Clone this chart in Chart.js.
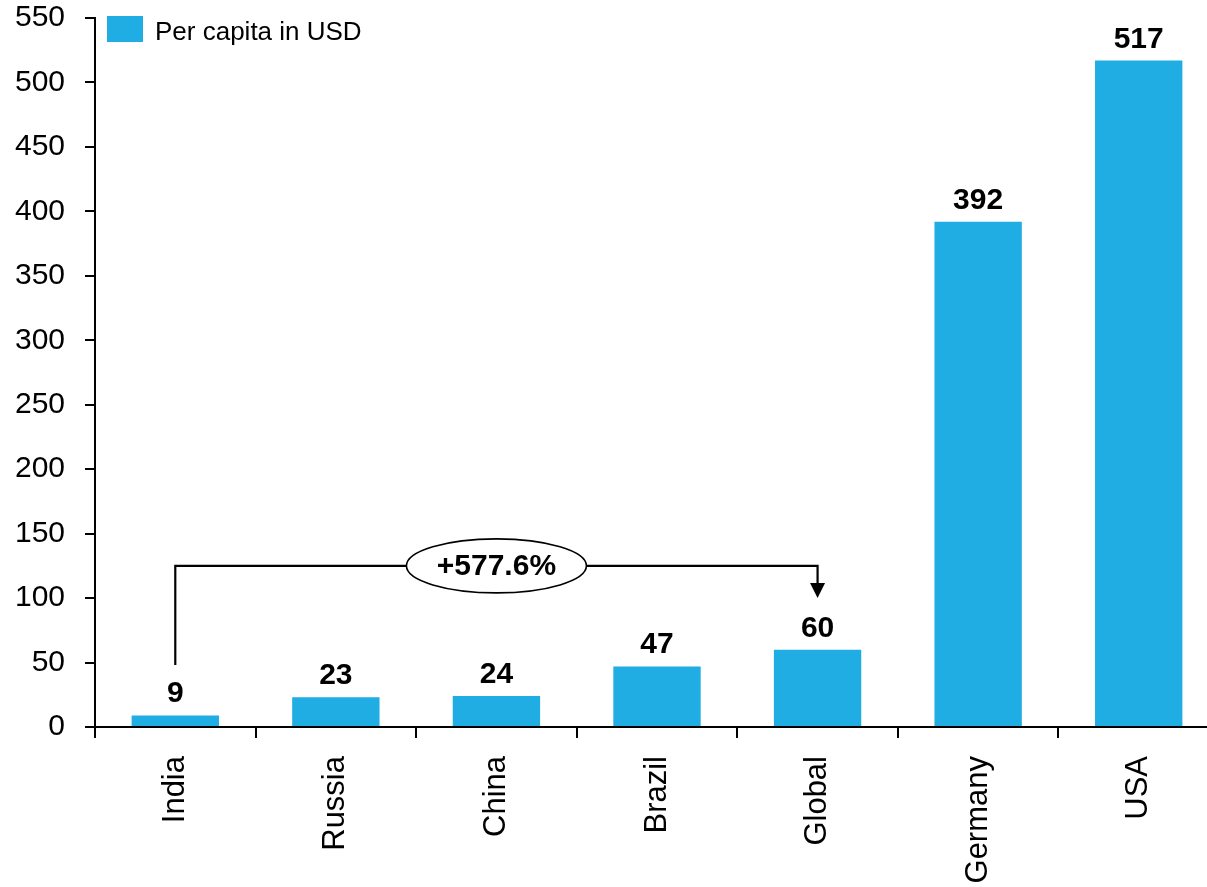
<!DOCTYPE html>
<html>
<head>
<meta charset="utf-8">
<script src="https://cdn.jsdelivr.net/npm/chart.js@4"></script>
<style>
    html, body { margin: 0; padding: 0; background: #fff; overflow: hidden; }
    #wrap { width: 1220px; height: 887px; position: relative; }
</style>
</head>
<body>
<div id="wrap"><canvas id="chart"></canvas></div>
<script>
// data
const countries = ['India', 'Russia', 'China', 'Brazil', 'Global', 'Germany', 'USA'];
const perCapita = [9, 23, 24, 47, 60, 392, 517];
const seriesName = 'Per capita in USD';

// bracket India -> Global
const growthLabel = '+577.6%';
const bracketFrom = 'India';
const bracketTo = 'Global';
const bracketStart = 48;   // bottom of left leg
const bracketLevel = 125;  // horizontal line
const arrowTip = 100;      // tip of arrow on the right

const barColor = '#1fade3';
const font = 'Liberation Sans, Arial, Helvetica, sans-serif';

// value labels above bars
const valueLabels = {
    id: 'valueLabels',
    afterDatasetsDraw(chart) {
        const ctx = chart.ctx;
        const meta = chart.getDatasetMeta(0);
        ctx.save();
        ctx.font = 'bold 30px ' + font;
        ctx.fillStyle = '#000';
        ctx.textAlign = 'center';
        ctx.textBaseline = 'alphabetic';
        meta.data.forEach((bar, i) => {
            ctx.fillText(String(perCapita[i]), bar.x, bar.y - 13);
        });
        ctx.restore();
    }
};

// legend drawn inside the plot, top left
const innerLegend = {
    id: 'innerLegend',
    afterDraw(chart) {
        const ctx = chart.ctx;
        const ds = chart.data.datasets[0];
        const left = chart.chartArea.left + 12;
        ctx.save();
        ctx.fillStyle = ds.backgroundColor;
        ctx.fillRect(left, 16, 36, 26);
        ctx.fillStyle = '#000';
        ctx.font = '26px ' + font;
        ctx.textBaseline = 'alphabetic';
        ctx.fillText(ds.label, left + 48, 40);
        ctx.restore();
    }
};

// bracket with arrow and growth ellipse
const growthBracket = {
    id: 'growthBracket',
    afterDraw(chart) {
        const ctx = chart.ctx;
        const x = chart.scales.x, y = chart.scales.y;
        const x1 = x.getPixelForValue(countries.indexOf(bracketFrom));
        const x2 = x.getPixelForValue(countries.indexOf(bracketTo));
        const yStart = y.getPixelForValue(bracketStart);
        const yLevel = y.getPixelForValue(bracketLevel);
        const yTip = y.getPixelForValue(arrowTip);
        ctx.save();
        ctx.strokeStyle = '#000';
        ctx.fillStyle = '#000';
        ctx.lineWidth = 2.2;
        ctx.beginPath();
        ctx.moveTo(x1, yStart);
        ctx.lineTo(x1, yLevel);
        ctx.lineTo(x2, yLevel);
        ctx.lineTo(x2, yTip - 13);
        ctx.stroke();
        ctx.beginPath();
        ctx.moveTo(x2 - 7.5, yTip - 15);
        ctx.lineTo(x2 + 7.5, yTip - 15);
        ctx.lineTo(x2, yTip);
        ctx.closePath();
        ctx.fill();

        const cx = (x1 + x2) / 2;
        ctx.beginPath();
        ctx.ellipse(cx, yLevel, 90, 27, 0, 0, Math.PI * 2);
        ctx.fillStyle = '#fff';
        ctx.fill();
        ctx.lineWidth = 1.6;
        ctx.stroke();
        ctx.fillStyle = '#000';
        ctx.font = 'bold 30px ' + font;
        ctx.textAlign = 'center';
        ctx.textBaseline = 'middle';
        ctx.fillText(growthLabel, cx, yLevel + 1);
        ctx.restore();
    }
};

new Chart(document.getElementById('chart'), {
    type: 'bar',
    data: {
        labels: countries,
        datasets: [{
            label: seriesName,
            data: perCapita,
            backgroundColor: barColor,
            borderWidth: 0,
            barPercentage: 0.544,
            categoryPercentage: 1
        }]
    },
    options: {
        responsive: true,
        maintainAspectRatio: false,
        animation: false,
        layout: { padding: { top: 18, right: 1, left: 0, bottom: 0 } },
        plugins: {
            legend: { display: false },
            tooltip: { enabled: false }
        },
        scales: {
            x: {
                grid: {
                    offset: true,
                    drawOnChartArea: false,
                    drawTicks: true,
                    tickLength: 11,
                    color: '#000',
                    lineWidth: 2
                },
                border: { color: '#000', width: 2 },
                ticks: {
                    color: '#000',
                    font: { family: font, size: 31 },
                    maxRotation: 90,
                    minRotation: 90,
                    autoSkip: false,
                    padding: 18
                },
                afterFit(scale) { scale.height = 160; }
            },
            y: {
                min: 0,
                max: 550,
                grid: {
                    drawOnChartArea: false,
                    drawTicks: true,
                    tickLength: 10,
                    color: '#000',
                    lineWidth: 2
                },
                border: { color: '#000', width: 2 },
                ticks: {
                    stepSize: 50,
                    color: '#000',
                    font: { family: font, size: 30 },
                    padding: 20
                },
                afterFit(scale) {
                    scale.width = 95;
                    scale.paddingTop = 0;
                    scale.paddingBottom = 0;
                }
            }
        }
    },
    plugins: [valueLabels, innerLegend, growthBracket]
});
</script>
</body>
</html>
